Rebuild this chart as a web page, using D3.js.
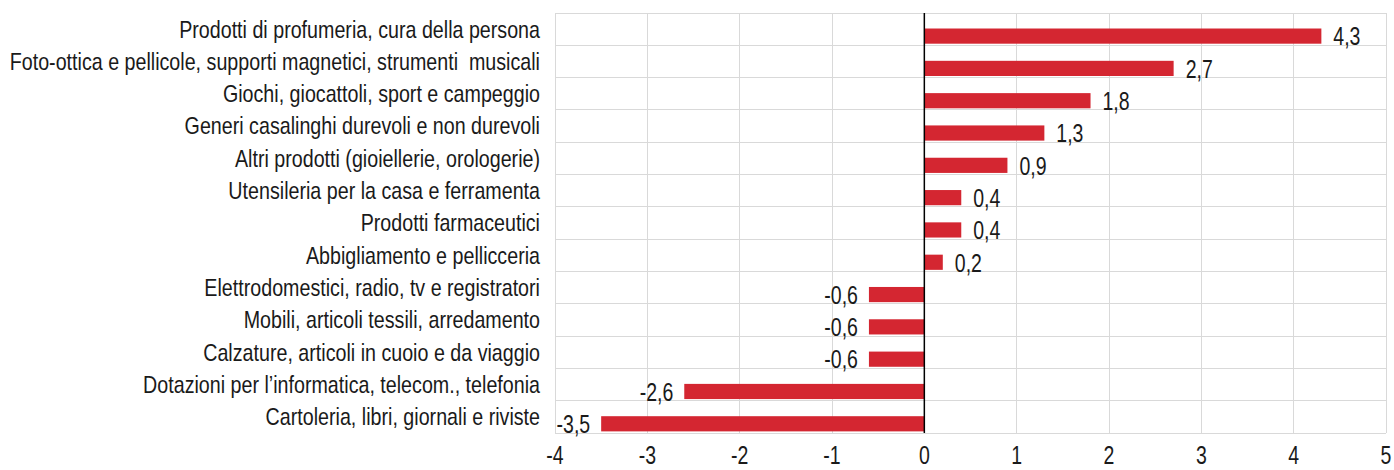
<!DOCTYPE html>
<html>
<head>
<meta charset="utf-8">
<script src="https://cdn.jsdelivr.net/npm/d3@7"></script>
<style>
  html, body { margin: 0; padding: 0; background: #fff; }
  svg { display: block; }
  text { font-family: "Liberation Sans", Arial, sans-serif; fill: #1a1a1a; white-space: pre; }
</style>
</head>
<body>
<svg id="chart" width="1394" height="470"></svg>
<script>
const categories = [
  "Prodotti di profumeria, cura della persona",
  "Foto-ottica e pellicole, supporti magnetici, strumenti  musicali",
  "Giochi, giocattoli, sport e campeggio",
  "Generi casalinghi durevoli e non durevoli",
  "Altri prodotti (gioiellerie, orologerie)",
  "Utensileria per la casa e ferramenta",
  "Prodotti farmaceutici",
  "Abbigliamento e pellicceria",
  "Elettrodomestici, radio, tv e registratori",
  "Mobili, articoli tessili, arredamento",
  "Calzature, articoli in cuoio e da viaggio",
  "Dotazioni per l’informatica, telecom., telefonia",
  "Cartoleria, libri, giornali e riviste"
];
const values = [4.3, 2.7, 1.8, 1.3, 0.9, 0.4, 0.4, 0.2, -0.6, -0.6, -0.6, -2.6, -3.5];
const xTicks = [-4, -3, -2, -1, 0, 1, 2, 3, 4, 5];

const svg = d3.select("#chart");
const pLeft = 555, pRight = 1386, pTop = 13, pBottom = 433;
const narrow = 0.82; // horizontal squeeze to mimic a narrow font
const fs = 24;
const numFs = 25, numNarrow = 0.78;

const x = d3.scaleLinear().domain([-4, 5]).range([pLeft, pRight]);
const y = d3.scaleBand().domain(categories).range([pTop, pBottom]).padding(0);
const bw = y.bandwidth();
const fmt = v => String(v).replace(".", ",");

const grid = svg.append("g").attr("stroke", "#d9d9d9").attr("stroke-width", 1).attr("shape-rendering", "crispEdges");
grid.selectAll("line.v").data(xTicks).join("line")
  .attr("class", "v")
  .attr("x1", d => x(d)).attr("x2", d => x(d))
  .attr("y1", pTop).attr("y2", pBottom);
const bounds = categories.map(c => y(c)).concat([pBottom]);
grid.selectAll("line.h").data(bounds).join("line")
  .attr("class", "h")
  .attr("x1", pLeft).attr("x2", pRight)
  .attr("y1", d => d).attr("y2", d => d);

svg.append("g").selectAll("rect").data(categories).join("rect")
  .attr("x", (c, i) => Math.min(x(0), x(values[i])))
  .attr("width", (c, i) => Math.abs(x(values[i]) - x(0)))
  .attr("y", c => y(c) + bw * 0.48)
  .attr("height", bw * 0.47)
  .attr("fill", "#d42631");

svg.append("line")
  .attr("x1", x(0)).attr("x2", x(0))
  .attr("y1", pTop).attr("y2", pBottom)
  .attr("stroke", "#000").attr("stroke-width", 1.5);

// category labels
svg.append("g").selectAll("text").data(categories).join("text")
  .attr("transform", c => `translate(540,${y(c) + bw / 2}) scale(${narrow},1)`)
  .attr("dy", "0.35em")
  .attr("text-anchor", "end")
  .attr("font-size", fs)
  .text(c => c);

// value labels
svg.append("g").selectAll("text").data(categories).join("text")
  .attr("transform", (c, i) => {
    const tx = values[i] >= 0 ? x(values[i]) + 12 : x(values[i]) - 11;
    const ty = y(c) + bw * 0.48 + bw * 0.235 + 0.5;
    return `translate(${tx},${ty}) scale(${numNarrow},1)`;
  })
  .attr("dy", "0.35em")
  .attr("text-anchor", (c, i) => values[i] >= 0 ? "start" : "end")
  .attr("font-size", numFs)
  .text((c, i) => fmt(values[i]));

// x tick labels
svg.append("g").selectAll("text").data(xTicks).join("text")
  .attr("transform", d => `translate(${x(d)},464) scale(${numNarrow},1)`)
  .attr("text-anchor", "middle")
  .attr("font-size", numFs)
  .text(d => String(d));
</script>
</body>
</html>
